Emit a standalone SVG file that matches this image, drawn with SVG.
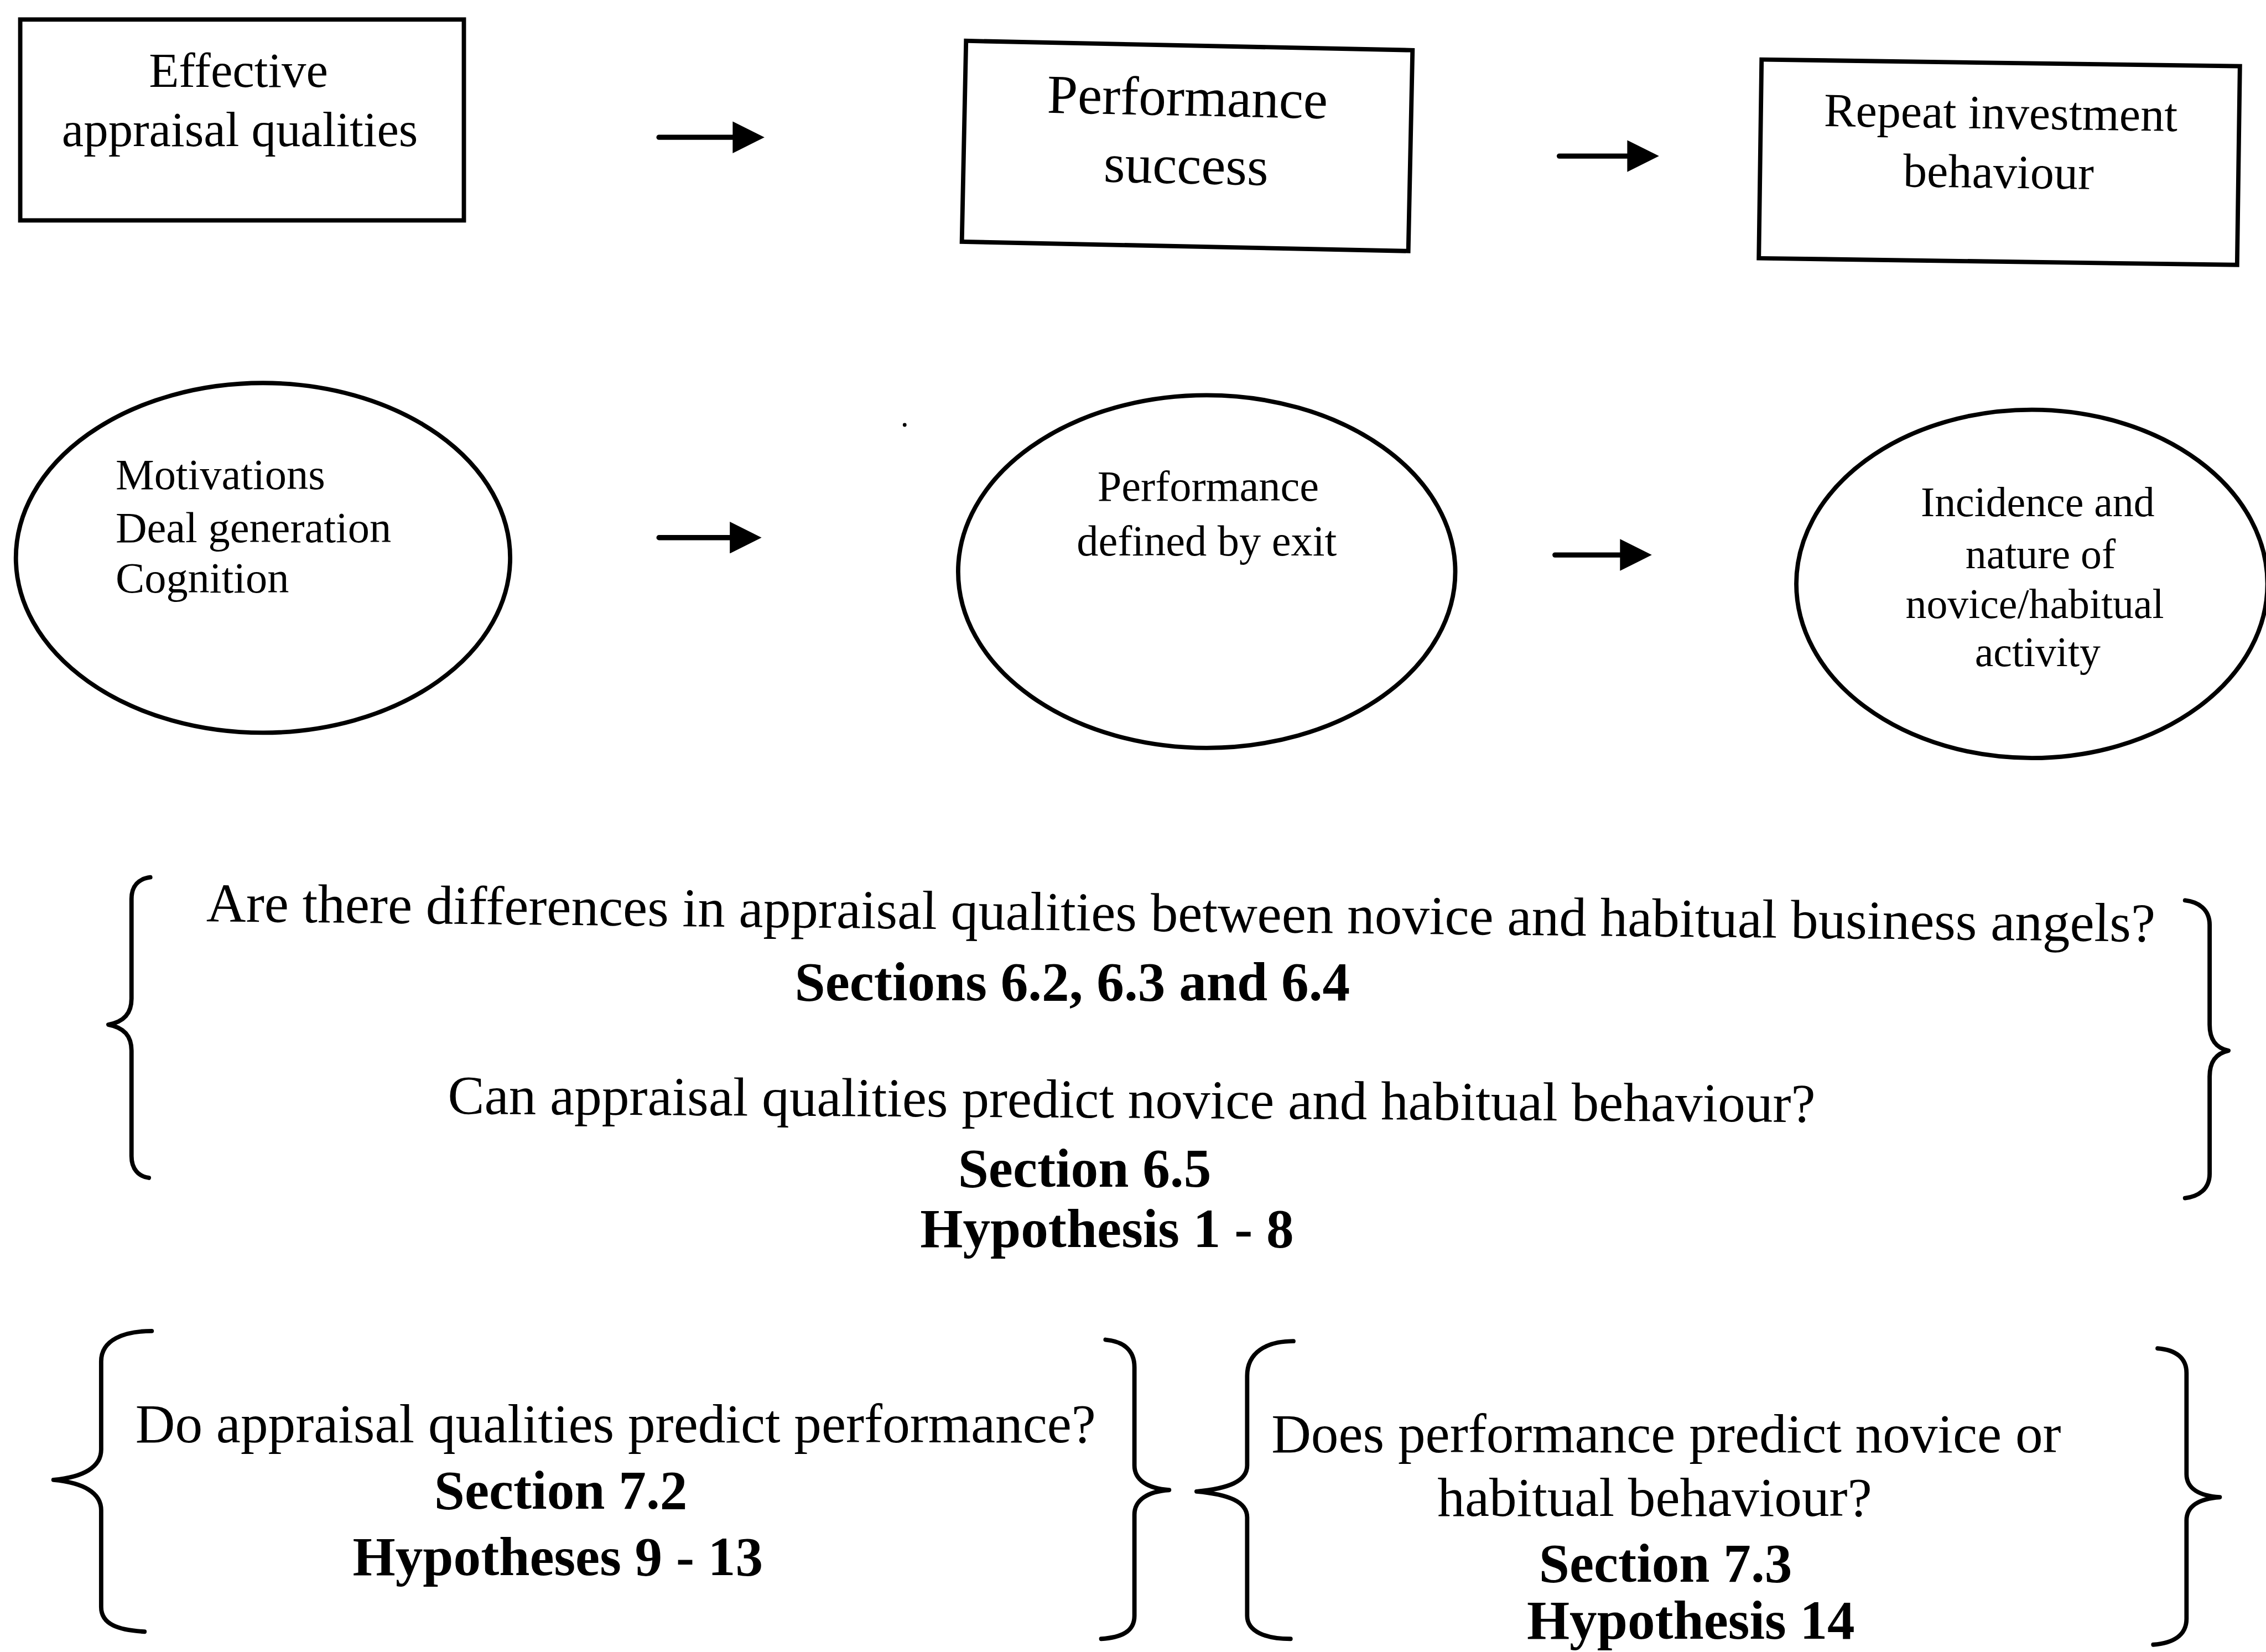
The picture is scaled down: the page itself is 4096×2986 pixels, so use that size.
<svg xmlns="http://www.w3.org/2000/svg" width="4096" height="2986" viewBox="0 0 4096 2986">
  <style>
    .box { fill: #fff; stroke: #000; stroke-width: 3; }
    .oval { fill: #fff; stroke: #000; stroke-width: 3; }
    .brace { fill: none; stroke: #000; stroke-width: 3; stroke-linecap: round; stroke-linejoin: round; }
    .link { stroke: #000; stroke-width: 3.6; stroke-linecap: round; fill: none; marker-end: url(#head); }
    .t { font-family: "Liberation Serif", "Times New Roman", serif; fill: #000; }
    .c { text-anchor: middle; }
    .b { font-weight: bold; }
    .s34 { font-size: 34px; }
    .s38 { font-size: 38px; }
    .s33 { font-size: 33px; }
    .s30 { font-size: 30px; }
    .s29 { font-size: 29px; }
  </style>
  <defs>
    <marker id="head" markerUnits="userSpaceOnUse" viewBox="0 0 22 22" markerWidth="22" markerHeight="22" refX="0" refY="11" orient="auto">
      <path d="M0,0 L22,11 L0,22 Z" fill="#000"/>
    </marker>
  </defs>
  <rect width="4096" height="2986" fill="#fff"/>
  <!-- drawing units: 1 unit = 2.61224 px -->
  <g transform="scale(2.61224)">
    <!-- top row: boxes -->
    <g id="node-effective-appraisal">
      <rect class="box" x="14" y="13.5" width="307" height="139"/>
      <text class="t c s34" x="165" y="60">Effective</text>
      <text class="t c s34" x="166" y="101">appraisal qualities</text>
    </g>
    <g id="node-performance-success" transform="rotate(1.2 821.5 101)">
      <rect class="box" x="667" y="31.5" width="309" height="139"/>
      <text class="t c s38" x="821" y="80">Performance</text>
      <text class="t c s38" x="821" y="127">success</text>
    </g>
    <g id="node-repeat-investment" transform="rotate(0.8 1383.5 112)">
      <rect class="box" x="1218" y="43.5" width="331" height="137.5"/>
      <text class="t c s33" x="1384" y="89">Repeat investment</text>
      <text class="t c s33" x="1383" y="130">behaviour</text>
    </g>

    <!-- second row: ovals -->
    <g id="node-motivations">
      <ellipse class="oval" cx="182" cy="386" rx="171" ry="121"/>
      <text class="t s30" x="80" y="338.5">Motivations</text>
      <text class="t s30" x="80" y="375">Deal generation</text>
      <text class="t s30" x="80" y="410">Cognition</text>
    </g>
    <g id="node-performance-exit">
      <ellipse class="oval" cx="835" cy="395.5" rx="172" ry="122"/>
      <text class="t c s30" x="836" y="346.5">Performance</text>
      <text class="t c s30" x="835" y="384.5">defined by exit</text>
    </g>
    <g id="node-incidence">
      <ellipse class="oval" cx="1406" cy="404" rx="163" ry="120.5"/>
      <text class="t c s29" x="1410" y="357">Incidence and</text>
      <text class="t c s29" x="1412" y="393">nature of</text>
      <text class="t c s29" x="1408" y="427.5">novice/habitual</text>
      <text class="t c s29" x="1410" y="461">activity</text>
    </g>
    <circle cx="626" cy="294" r="1.3" fill="#000"/>

    <!-- arrows between the stages -->
    <g id="connectors">
      <line class="link" x1="456" y1="95" x2="507" y2="95"/>
      <line class="link" x1="1079" y1="108" x2="1126" y2="108"/>
      <line class="link" x1="456" y1="372" x2="505" y2="372"/>
      <line class="link" x1="1076" y1="384" x2="1121" y2="384"/>
    </g>

    <!-- research questions: appraisal qualities vs novice/habitual -->
    <g id="node-questions-6">
      <path class="brace" d="M104,607 C96,608 91,613 91,622 L91,691 C91,701 86,707 75,709 C86,711 91,717 91,727 L91,800 C91,809 96,814 103,815"/>
      <path class="brace" d="M1512,623 C1521,624 1529,629 1529,640 L1529,709 C1529,719 1533,725 1542,727 C1533,729 1529,735 1529,745 L1529,812 C1529,823 1521,828 1512,829"/>
      <text class="t c s38" x="817" y="644.5" transform="rotate(0.6 817 644.5)">Are there differences in appraisal qualities between novice and habitual business angels?</text>
      <text class="t c s38 b" x="742" y="692">Sections 6.2, 6.3 and 6.4</text>
      <text class="t c s38" x="783" y="773.5" transform="rotate(0.35 783 773.5)">Can appraisal qualities predict novice and habitual behaviour?</text>
      <text class="t c s38 b" x="750.5" y="821">Section 6.5</text>
      <text class="t c s38 b" x="766" y="863">Hypothesis 1 - 8</text>
    </g>

    <!-- research question: appraisal qualities vs performance -->
    <g id="node-questions-7-2">
      <path class="brace" d="M105,921 C86,921 70,927 70,942 L70,1003 C70,1015 58,1022 37,1024 C58,1026 70,1033 70,1045 L70,1112 C70,1124 82,1128 100,1129"/>
      <path class="brace" d="M765,927 C777,928 785,934 785,946 L785,1014 C785,1024 794,1030 809,1031 C794,1032 785,1038 785,1048 L785,1118 C785,1129 776,1133 762,1134"/>
      <text class="t c s38" x="426" y="998">Do appraisal qualities predict performance?</text>
      <text class="t c s38 b" x="388" y="1044">Section 7.2</text>
      <text class="t c s38 b" x="386" y="1090">Hypotheses 9 - 13</text>
    </g>

    <!-- research question: performance vs novice/habitual -->
    <g id="node-questions-7-3">
      <path class="brace" d="M895,928 C876,928 863,936 863,952 L863,1014 C863,1025 850,1030 828,1032 C850,1034 863,1039 863,1050 L863,1118 C863,1129 876,1134 893,1134"/>
      <path class="brace" d="M1493,933 C1506,934 1513,940 1513,950 L1513,1020 C1513,1030 1522,1035 1536,1036 C1522,1037 1513,1042 1513,1052 L1513,1120 C1513,1132 1503,1137 1490,1138"/>
      <text class="t c s38" x="1153" y="1005">Does performance predict novice or</text>
      <text class="t c s38" x="1145" y="1049">habitual behaviour?</text>
      <text class="t c s38 b" x="1152.5" y="1094.5">Section 7.3</text>
      <text class="t c s38 b" x="1170" y="1134">Hypothesis 14</text>
    </g>
  </g>
</svg>
